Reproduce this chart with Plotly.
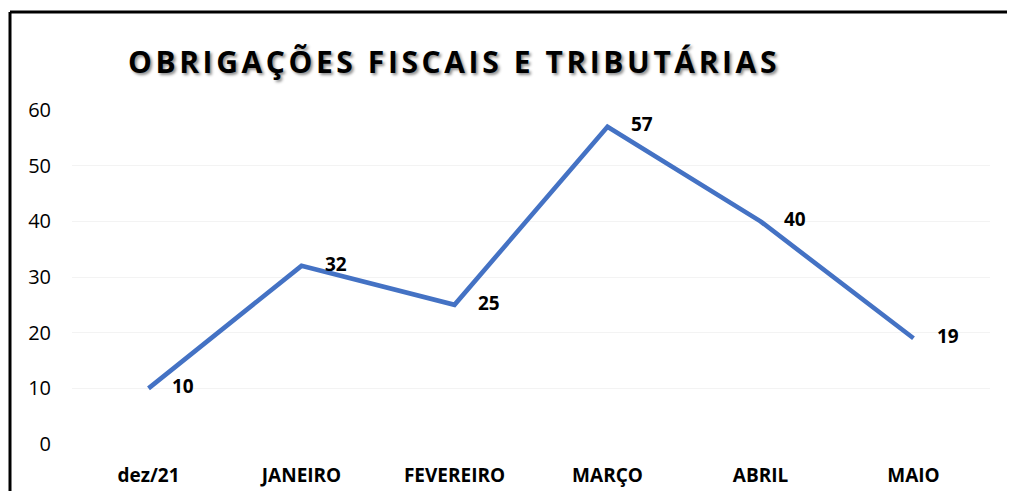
import plotly.graph_objects as go

categories = ["dez/21", "JANEIRO", "FEVEREIRO", "MARÇO", "ABRIL", "MAIO"]
values = [10, 32, 25, 57, 40, 19]
title_text = "OBRIGAÇÕES FISCAIS E TRIBUTÁRIAS"

# page body has an 8px margin on every side; keep the figure inside the window
OFF = 8
W, H = 1015 - 2 * OFF, 499 - 2 * OFF
L, T = 72 - OFF, 110 - OFF
R = W - (990 - OFF)
B = H - (444 - OFF)
pw, ph = W - L - R, H - T - B

fig = go.Figure()
fig.add_trace(go.Scatter(
    x=categories, y=values, mode="lines+markers+text",
    line=dict(color="#4472C4", width=4.6),
    marker=dict(size=36, color="rgba(0,0,0,0)"),
    text=[str(v) for v in values], textposition="middle right",
    textfont=dict(family="Open Sans", size=19, color="black", weight="bold"),
    cliponaxis=False, hoverinfo="skip", showlegend=False,
))

bx = (10 - 72) / pw
by = (H - B - (12 - OFF)) / ph

fig.update_layout(
    width=W, height=H,
    margin=dict(l=L, r=R, t=T, b=B),
    paper_bgcolor="white", plot_bgcolor="white",
    title=dict(text='<span style="letter-spacing:3.6px">' + title_text + '</span>',
               x=(454 - OFF) / W, xanchor="center",
               y=1 - (62 - OFF) / H, yanchor="middle",
               font=dict(family="Open Sans", size=30, color="black", weight="bold",
                         shadow="2px 2px 3px rgba(0,0,0,0.45)")),
    xaxis=dict(range=[-0.5, 5.5], showgrid=False, showline=False, zeroline=False, ticks="",
               tickfont=dict(family="Open Sans", size=19, color="black", weight="bold"),
               ticklabelstandoff=18, fixedrange=True, automargin=False),
    yaxis=dict(range=[0, 60], dtick=10, showgrid=True, gridcolor="#f3f3f3", gridwidth=1,
               zeroline=False, showline=False, ticks="",
               tickfont=dict(family="Open Sans", size=20, color="black"),
               ticklabelstandoff=20, fixedrange=True, automargin=False),
    shapes=[
        dict(type="line", xref="paper", yref="paper", x0=bx, x1=bx, y0=by, y1=-0.2,
             line=dict(color="black", width=3), layer="above"),
        dict(type="line", xref="paper", yref="paper", x0=bx, x1=(W - L) / pw, y0=by, y1=by,
             line=dict(color="black", width=3), layer="above"),
    ],
)

fig.write_html("out.html")
